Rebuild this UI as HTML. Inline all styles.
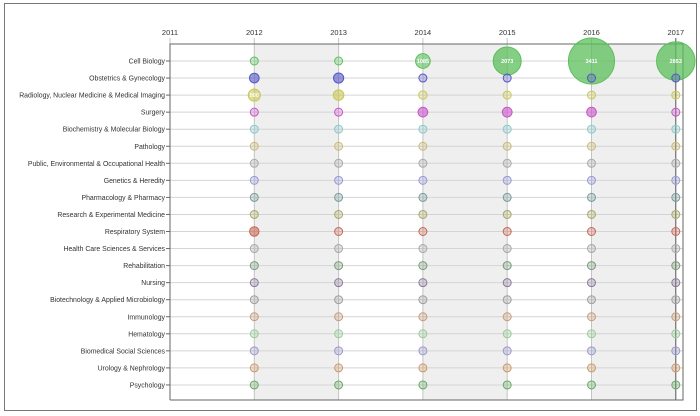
<!DOCTYPE html>
<html><head><meta charset="utf-8"><style>
body{margin:0;background:#fff;}
svg{display:block;font-family:"Liberation Sans",Arial,sans-serif;}
</style></head><body>
<svg id="chart" width="700" height="416" viewBox="0 0 700 416">
<rect x="4.5" y="3.5" width="692" height="407" fill="#fff" stroke="#777" stroke-width="1"/>
<g id="bands"></g><g id="grid"></g><g id="bubbles"></g><g id="labels"></g>
</svg>
<script>
const years = ["2011","2012","2013","2014","2015","2016","2017"];
const categories = ["Cell Biology","Obstetrics & Gynecology","Radiology, Nuclear Medicine & Medical Imaging","Surgery","Biochemistry & Molecular Biology","Pathology","Public, Environmental & Occupational Health","Genetics & Heredity","Pharmacology & Pharmacy","Research & Experimental Medicine","Respiratory System","Health Care Sciences & Services","Rehabilitation","Nursing","Biotechnology & Applied Microbiology","Immunology","Hematology","Biomedical Social Sciences","Urology & Nephrology","Psychology"];
const colors = ["#5cbf5c","#5555c8","#c8c855","#c855c8","#8acaca","#cbb874","#aaaaaa","#9898d8","#789a9a","#a8a866","#c86655","#a8a8a8","#7a9a7a","#8a7a9a","#a0a0a0","#c89a77","#99cc99","#9999cc","#cc9966","#66aa66"];
// values per category for 2012..2017
const v2012 = [520,716,900,570,450,480,450,450,450,420,700,420,420,420,420,450,420,420,420,450];
const v2013 = [500,755,780,500,450,420,420,430,420,420,420,420,420,420,420,420,420,420,420,420];
const v2014 = [1085,582,620,718,450,450,420,420,420,420,420,420,420,420,420,420,420,420,420,420];
const v2015 = [2073,586,550,725,420,560,420,420,420,420,420,420,420,420,420,420,420,420,420,420];
const v2016 = [3411,600,500,717,420,500,420,420,420,420,420,420,420,420,420,420,420,420,420,420];
const v2017 = [2853,500,420,420,420,420,420,420,420,420,420,420,420,420,420,420,420,420,420,420];
const series = [v2012,v2013,v2014,v2015,v2016,v2017];

const NS="http://www.w3.org/2000/svg";
const X0=170, DX=84.3, Y0=61, DY=17.05, TOP=44, BOT=400, RIGHT=683;
const xs = i => X0 + i*DX;
const ys = j => Y0 + j*DY;
const rs = v => Math.max(4, v/148);
function mk(tag, attrs, parent){const e=document.createElementNS(NS,tag);for(const k in attrs)e.setAttribute(k,attrs[k]);parent.appendChild(e);return e;}
const bands=document.getElementById('bands'), grid=document.getElementById('grid'), bub=document.getElementById('bubbles'), lab=document.getElementById('labels');
for(let i=1;i<years.length;i+=2){
  const b=mk('rect',{x:xs(i),y:TOP,width:Math.min(xs(i+1),RIGHT)-xs(i),height:BOT-TOP,fill:'#efefef'},bands);
  
  
}
categories.forEach((c,j)=>{
  const l=mk('line',{x1:X0,x2:RIGHT,y1:ys(j),y2:ys(j),stroke:'#d4d4d4','stroke-width':1},grid);
  
  
  const t=mk('line',{x1:X0-4,x2:X0,y1:ys(j),y2:ys(j),stroke:'#666'},grid);
  
  
  const tx=mk('text',{x:X0-5,y:ys(j)+2.5,'text-anchor':'end','font-size':'6.9',fill:'#333'},lab);
  tx.textContent=c;
  
  
});
years.forEach((y,i)=>{
  const l=mk('line',{x1:xs(i),x2:xs(i),y1:TOP-6,y2:BOT,stroke:i==6?'#555':'#c4c4c4','stroke-width':1},grid);
  
  
  const tx=mk('text',{x:xs(i),y:35,'text-anchor':'middle','font-size':'7.5',fill:'#333'},lab);
  tx.textContent=y;
  
  
});
const fr=mk('path',{d:`M${X0},${BOT}V${TOP}H${RIGHT}V${BOT}H${X0}`,fill:'none',stroke:'#666','stroke-width':1},grid);


series.forEach((vals,si)=>{
  vals.forEach((v,j)=>{
    const cx=xs(si+1), cy=ys(j), r=rs(v);
    const c=mk('circle',{cx:cx,cy:cy,r:r,fill:colors[j],'fill-opacity':r>8?0.75:(r>4.5?0.6:0.3),stroke:colors[j],'stroke-width':1},bub);
    
    
    if(r>5.5){
      const t=mk('text',{x:cx,y:cy+2,'text-anchor':'middle','font-size':'5.5','font-weight':'bold',fill:'#fff'},bub);
      t.textContent=v;
      
      
    }
  });
});
</script>
</body></html>
